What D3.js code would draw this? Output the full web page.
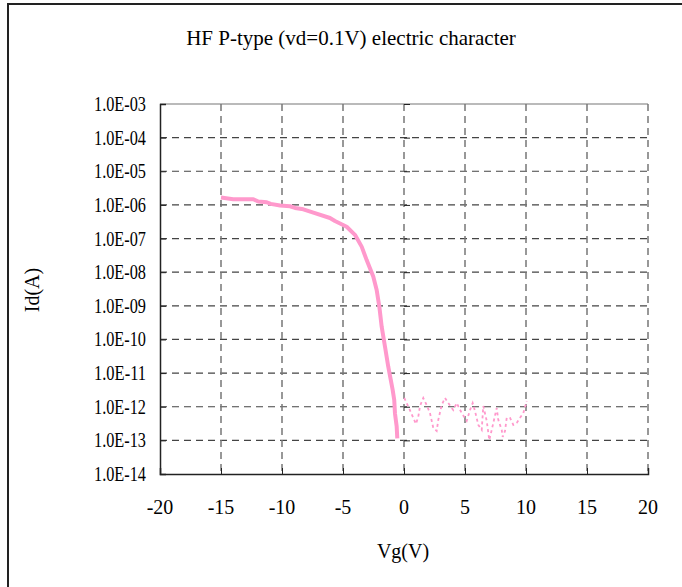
<!DOCTYPE html>
<html><head><meta charset="utf-8">
<script src="https://cdn.jsdelivr.net/npm/d3@7"></script>
<style>
body{margin:0;background:#fff;}
svg text{font-family:"Liberation Serif","Times New Roman",serif;fill:#000;}
</style></head>
<body><svg id="c" width="682" height="587"></svg>
<script>
const title = "HF P-type (vd=0.1V) electric character";
const xLabel = "Vg(V)";
const yLabel = "Id(A)";
const xTicks = [-20,-15,-10,-5,0,5,10,15,20];
const yTickExps = [-3,-4,-5,-6,-7,-8,-9,-10,-11,-12,-13,-14];
const yTickLabels = ["1.0E-03","1.0E-04","1.0E-05","1.0E-06","1.0E-07","1.0E-08","1.0E-09","1.0E-10","1.0E-11","1.0E-12","1.0E-13","1.0E-14"];

// Main (on-state) curve: Vg and log10(Id)
const onVg  = [-15.0,-14.0,-12.35,-11.94,-11.25,-10.93,-10.16,-9.34,-8.93,-8.25,-7.43,-6.07,-5.66,-4.70,-4.02,-3.47,-3.06,-2.52,-2.24,-2.02,-1.83,-1.56,-1.29,-0.93,-0.80,-0.74,-0.60,-0.55];
const onLog = [-5.78,-5.83,-5.83,-5.90,-5.92,-5.97,-6.02,-6.04,-6.09,-6.13,-6.23,-6.39,-6.48,-6.65,-6.89,-7.24,-7.64,-8.13,-8.53,-9.03,-9.62,-10.21,-10.81,-11.50,-11.80,-12.20,-12.59,-12.94];

// Off-state noisy curve
const offVg  = [0.02,0.41,0.76,0.98,1.17,1.31,1.58,1.86,2.13,2.40,2.68,2.81,3.09,3.36,3.63,4.04,4.32,4.73,5.14,5.41,5.63,5.82,6.09,6.37,6.50,6.78,6.99,7.19,7.32,7.60,7.73,8.01,8.09,8.28,8.42,8.69,8.96,9.24,9.51,9.78,10.06];
const offLog = [-11.74,-12.04,-12.33,-12.51,-12.30,-11.98,-11.74,-11.95,-12.19,-12.63,-12.72,-12.39,-11.95,-11.74,-11.89,-12.10,-11.89,-12.19,-12.42,-12.10,-11.89,-12.13,-12.54,-12.69,-11.98,-12.42,-12.99,-12.69,-12.48,-12.04,-12.39,-12.69,-12.90,-12.72,-12.33,-12.33,-12.54,-12.48,-12.33,-12.19,-11.83];

const svg = d3.select("#c");
const L=160, R=648, T=104, B=474;
const x = d3.scaleLinear().domain([-20,20]).range([L,R]);
const y = d3.scaleLog().domain([1e-14,1e-3]).range([B,T]);

// outer frame (left + top)
svg.append("path").attr("d",`M8,587V4H682`).attr("fill","none").attr("stroke","#222").attr("stroke-width",2);

// gridlines
const g = svg.append("g");
yTickExps.forEach(e=>{
  if(e===-3||e===-14) return;
  g.append("line").attr("x1",L).attr("x2",R).attr("y1",y(Math.pow(10,e))).attr("y2",y(Math.pow(10,e)))
   .attr("stroke","#444").attr("stroke-width",1.2).attr("stroke-dasharray","7,5");
});
xTicks.forEach(v=>{
  if(v===-20) return;
  g.append("line").attr("x1",x(v)).attr("x2",x(v)).attr("y1",T).attr("y2",B)
   .attr("stroke","#777").attr("stroke-width",1.5).attr("stroke-dasharray","7,5");
});
// top border
g.append("line").attr("x1",L).attr("x2",R).attr("y1",T).attr("y2",T).attr("stroke","#777").attr("stroke-width",1.2);

// axes
const xAxis = d3.axisBottom(x).tickValues(xTicks).tickSize(-6).tickFormat("");
svg.append("g").attr("transform",`translate(0,${B})`).call(xAxis)
  .call(s=>{s.select(".domain").attr("stroke","#222").attr("stroke-width",1.5);s.selectAll(".tick line").attr("stroke","#222");});
const yAxis = d3.axisLeft(y).tickValues(yTickExps.map(e=>Math.pow(10,e))).tickSize(-6).tickFormat("");
svg.append("g").attr("transform",`translate(${L},0)`).call(yAxis)
  .call(s=>{s.select(".domain").attr("stroke","#222").attr("stroke-width",1.5);s.selectAll(".tick line").attr("stroke","#222");});
// ticks at x=0
svg.append("g").attr("transform",`translate(${x(0)},0)`).call(yAxis)
  .call(s=>{s.select(".domain").remove();s.selectAll(".tick line").attr("stroke","#222");});

// labels
svg.append("g").selectAll("text").data(xTicks).join("text")
  .attr("x",d=>x(d)).attr("y",514).attr("text-anchor","middle").attr("font-size",20).text(d=>d);
svg.append("g").selectAll("text").data(yTickExps).join("text")
  .attr("x",146).attr("y",d=>y(Math.pow(10,d))+7).attr("text-anchor","end").attr("font-size",20)
  .attr("textLength",52).attr("lengthAdjust","spacingAndGlyphs")
  .text((d,i)=>yTickLabels[i]);

svg.append("text").attr("x",351).attr("y",45).attr("text-anchor","middle").attr("font-size",21).text(title);
svg.append("text").attr("x",403).attr("y",558).attr("text-anchor","middle").attr("font-size",20).text(xLabel);
svg.append("text").attr("transform","translate(39,290) rotate(-90)").attr("text-anchor","middle").attr("font-size",20).text(yLabel);

// series
const line = d3.line().x(d=>x(d[0])).y(d=>y(Math.pow(10,d[1])));
svg.append("path").datum(onVg.map((v,i)=>[v,onLog[i]])).attr("d",line)
  .attr("fill","none").attr("stroke","#FF99CC").attr("stroke-width",4).attr("stroke-linejoin","round");
svg.append("path").datum(offVg.map((v,i)=>[v,offLog[i]])).attr("d",line)
  .attr("fill","none").attr("stroke","#FF99CC").attr("stroke-width",1.8).attr("stroke-dasharray","3,3");
</script></body></html>
